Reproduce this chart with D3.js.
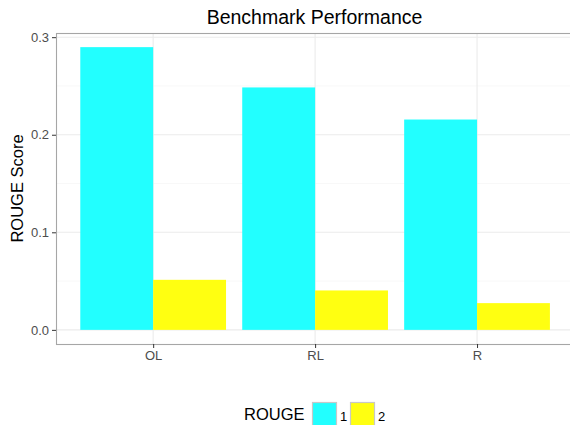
<!DOCTYPE html>
<html><head><meta charset="utf-8">
<script src="https://cdn.jsdelivr.net/npm/d3@7"></script>
<style>body{margin:0;background:#fff}svg{display:block;font-family:"Liberation Sans",Arial,sans-serif}</style>
</head><body><svg id="c" width="570" height="425"></svg>
<script>
const categories = ["OL", "RL", "R"];
const groups = ["1", "2"];
const rouge1 = [0.2898, 0.2485, 0.2156];
const rouge2 = [0.0513, 0.0404, 0.0274];
const yTicks = [0.0, 0.1, 0.2, 0.3];
const yMinor = [0.05, 0.15, 0.25];
const colors = ["#22FFFF", "#FFFF11"];

const svg = d3.select("#c");
const x0 = 56, x1 = 574.2, yTop = 33, yBot = 344;

const rows = categories.map((c, i) => ({cat: c, vals: [rouge1[i], rouge2[i]]}));
const maxV = d3.max(rouge1.concat(rouge2));
const pad = maxV * 0.05;
const y = d3.scaleLinear().domain([-pad, maxV + pad]).range([yBot, yTop]);
const step = (x1 - x0) / (categories.length - 1 + 1.2);
const xc = d3.scalePoint().domain(categories).range([x0 + 0.6 * step, x1 - 0.6 * step]);
const bw = step * 0.9;
const xs = d3.scaleBand().domain(groups).range([0, bw]).padding(0);

const g = svg.append("g");
g.selectAll(".mn").data(yMinor).enter().append("line")
  .attr("x1", x0).attr("x2", x1).attr("y1", d => y(d)).attr("y2", d => y(d))
  .attr("stroke", "#f4f4f4").attr("stroke-width", 0.6);
g.selectAll(".mj").data(yTicks).enter().append("line")
  .attr("x1", x0).attr("x2", x1).attr("y1", d => y(d)).attr("y2", d => y(d))
  .attr("stroke", "#ebebeb").attr("stroke-width", 1.1);
g.selectAll(".vx").data(categories).enter().append("line")
  .attr("x1", d => xc(d)).attr("x2", d => xc(d)).attr("y1", yTop).attr("y2", yBot)
  .attr("stroke", "#ebebeb").attr("stroke-width", 1.1);

const cg = g.selectAll(".cat").data(rows).enter().append("g")
  .attr("transform", d => `translate(${xc(d.cat) - bw / 2},0)`);
cg.selectAll("rect").data(d => d.vals.map((v, k) => ({k, v}))).enter().append("rect")
  .attr("x", d => xs(groups[d.k])).attr("width", xs.bandwidth())
  .attr("y", d => y(d.v)).attr("height", d => y(0) - y(d.v))
  .attr("fill", d => colors[d.k]);

g.append("rect").attr("x", x0 + 0.5).attr("y", yTop + 0.5).attr("width", x1 - x0).attr("height", yBot - yTop)
  .attr("fill", "none").attr("stroke", "#a6a6a6").attr("stroke-width", 1.1);

const ya = d3.axisLeft(y).tickValues(yTicks).tickFormat(d3.format(".1f")).tickSize(4).tickPadding(3);
const yg = svg.append("g").attr("transform", `translate(${x0},0)`).call(ya);
yg.select(".domain").remove();
yg.selectAll("line").attr("stroke", "#333");
yg.selectAll("text").attr("fill", "#4d4d4d").style("font-size", "13px");
const xa = d3.axisBottom(xc).tickSize(4).tickPadding(3);
const xg = svg.append("g").attr("transform", `translate(0,${yBot})`).call(xa);
xg.select(".domain").remove();
xg.selectAll("line").attr("stroke", "#333");
xg.selectAll("text").attr("fill", "#4d4d4d").style("font-size", "13px");

svg.append("text").attr("x", 314.5).attr("y", 24).attr("text-anchor", "middle")
  .style("font-size", "19.5px").attr("fill", "#000").text("Benchmark Performance");
svg.append("text").attr("transform", `translate(23,${(yTop + yBot) / 2}) rotate(-90)`)
  .attr("text-anchor", "middle").style("font-size", "16.5px").attr("fill", "#000").text("ROUGE Score");

const lg = svg.append("g");
lg.append("text").attr("x", 244).attr("y", 420).style("font-size", "16.5px").attr("fill", "#000").text("ROUGE");
const keyX = [312, 350];
groups.forEach((gname, k) => {
  lg.append("rect").attr("x", keyX[k] + 0.5).attr("y", 402.5).attr("width", 24).attr("height", 26)
    .attr("fill", colors[k]).attr("stroke", "#c8c8c8").attr("stroke-width", 1.2);
  lg.append("text").attr("x", keyX[k] + 28).attr("y", 421).style("font-size", "13px").attr("fill", "#000").text(gname);
});
</script></body></html>
